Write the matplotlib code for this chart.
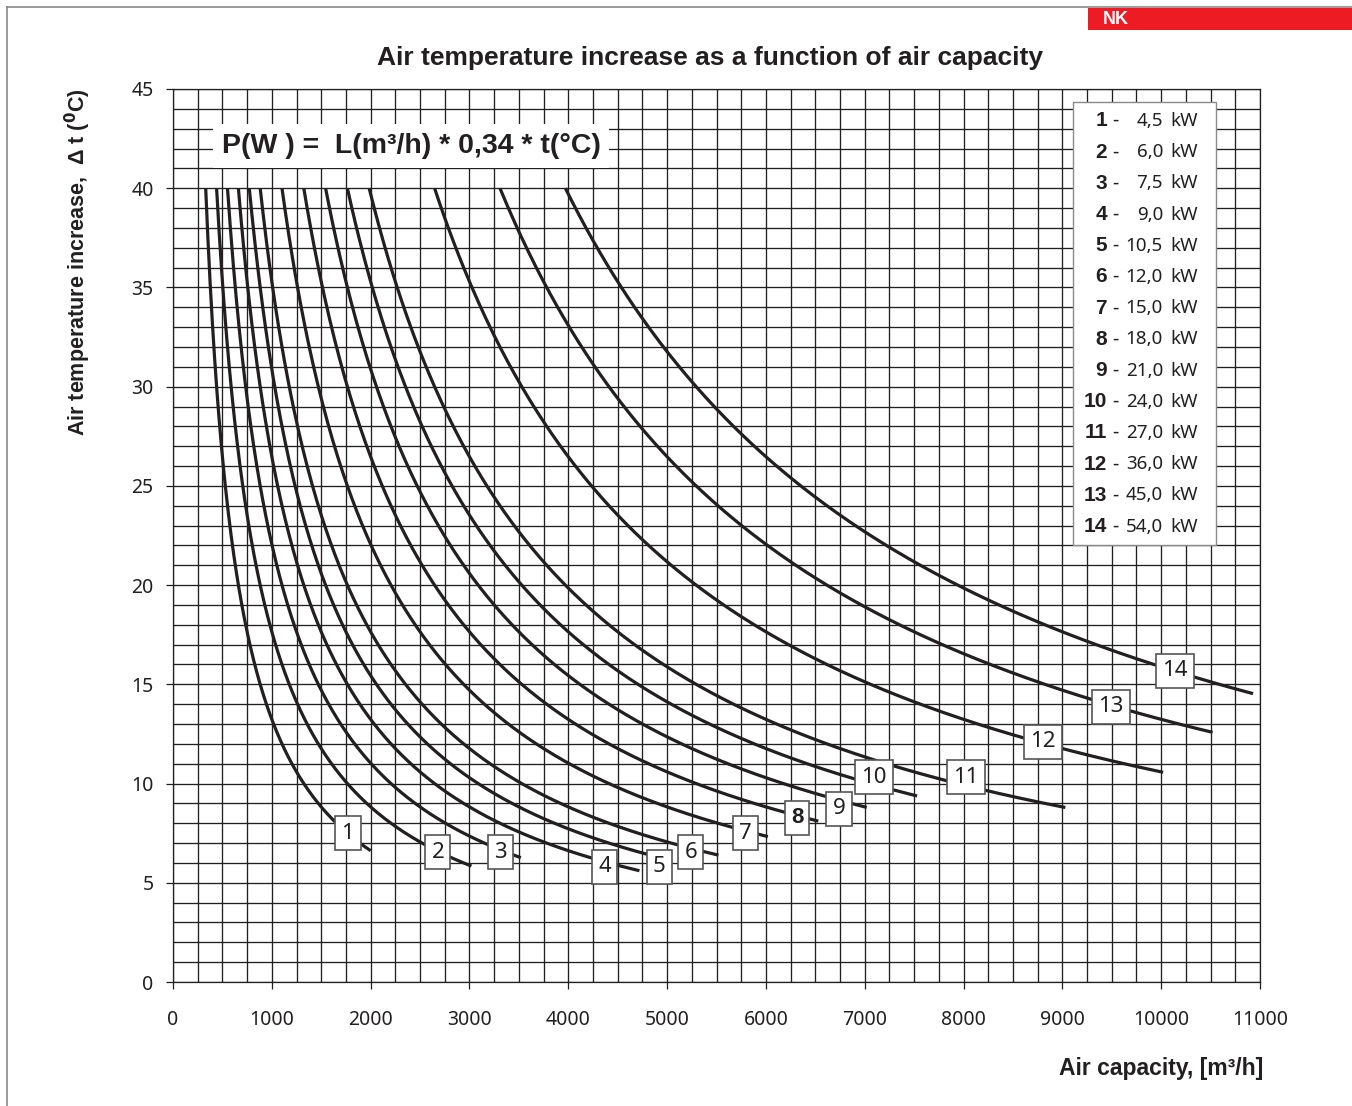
import matplotlib
matplotlib.use("Agg")
import matplotlib.pyplot as plt
from matplotlib.lines import Line2D
from matplotlib.patches import Rectangle
import numpy as np

# Heater powers (kW), taken from the legend box
curve_ids = [1, 2, 3, 4, 5, 6, 7, 8, 9, 10, 11, 12, 13, 14]
powers_kw = [4.5, 6.0, 7.5, 9.0, 10.5, 12.0, 15.0, 18.0, 21.0, 24.0, 27.0, 36.0, 45.0, 54.0]
legend_vals = ["4,5", "6,0", "7,5", "9,0", "10,5", "12,0", "15,0", "18,0",
               "21,0", "24,0", "27,0", "36,0", "45,0", "54,0"]
# where each curve stops (air capacity, m3/h)
end_capacity = [2000, 3020, 3520, 4720, 4900, 5520, 6020, 6530, 7020, 7530,
                9030, 10020, 10520, 10930]
t_start = 40  # all curves start at 40 degC
# label boxes (air capacity, delta t)
label_x = [1770, 2680, 3310, 4370, 4920, 5240, 5790, 6315, 6740, 7095, 8025, 8805, 9490, 10140]
label_y = [7.5, 6.55, 6.55, 5.8, 5.8, 6.55, 7.5, 8.27, 8.72, 10.33, 10.33, 12.1, 13.86, 15.68]

INK = "#231f20"
BOLD_FONT = ["Liberation Sans", "DejaVu Sans"]
TICK_FONT = ["Noto Sans", "DejaVu Sans"]

W, H = 1352, 1106
fig = plt.figure(figsize=(W / 100, H / 100), dpi=100)
fig.patch.set_facecolor("white")


def px_x(p):
    # pixel column -> data x
    return (p - 173) / 1087 * 11000


def px_y(p):
    # pixel row -> data y
    return (982 - p) / 893 * 45


# thin page frame + red NK tab
fig.add_artist(Line2D([7 / W, 7 / W], [0, 1 - 7 / H], color="#8a8a8a", lw=1.2))
fig.add_artist(Line2D([7 / W, 1], [1 - 7 / H, 1 - 7 / H], color="#8a8a8a", lw=1.2))
fig.add_artist(Rectangle((1088 / W, 1 - 30 / H), (W - 1088) / W, 22 / H,
                         transform=fig.transFigure, color="#ed1c24", lw=0))
fig.text(1103 / W, 1 - 19.5 / H, "NK", color="white", fontsize=13, weight="bold",
         family=BOLD_FONT, ha="left", va="center")

ax = fig.add_axes([173 / W, 1 - 982 / H, 1087 / W, 893 / H])
ax.set_xlim(0, 11000)
ax.set_ylim(0, 45)

# grid every 250 m3/h and every 1 degC
for gx in np.arange(0, 11001, 250):
    ax.axvline(gx, color=INK, lw=0.95, zorder=1)
for gy in np.arange(0, 46, 1):
    ax.axhline(gy, color=INK, lw=0.95, zorder=1)

ax.set_xticks(np.arange(0, 11001, 1000))
ax.set_yticks(np.arange(0, 46, 5))
ax.tick_params(direction="out", length=5, width=0.9, color=INK, labelcolor=INK,
               labelsize=14)
ax.tick_params(axis="x", pad=15)
ax.tick_params(axis="y", pad=9)
for lab in ax.get_xticklabels() + ax.get_yticklabels():
    lab.set_family(TICK_FONT)
for sp in ax.spines.values():
    sp.set_color(INK)
    sp.set_linewidth(0.9)

# curves: P(W) = L * 0.34 * t  ->  t = P / (0.34 L)
for p, l_end in zip(powers_kw, end_capacity):
    l0 = p * 1000 / (0.34 * t_start)
    L = np.linspace(l0, l_end, 300)
    ax.plot(L, p * 1000 / (0.34 * L), color=INK, lw=2.3, solid_capstyle="butt", zorder=3)

for cid, lx, ly in zip(curve_ids, label_x, label_y):
    ax.text(lx, ly, str(cid), fontsize=16, family=BOLD_FONT if cid == 8 else TICK_FONT,
            color=INK, weight="bold" if cid == 8 else "normal", ha="center", va="center",
            zorder=5, bbox=dict(boxstyle="square,pad=0.28", fc="white", ec="#555555", lw=1.2))

# formula box
ax.text(px_x(222), px_y(146), "P(W ) =  L(m³/h) * 0,34 * t(°C)",
        fontsize=20.5, weight="bold", family=BOLD_FONT, color=INK, ha="left", va="center",
        zorder=5, bbox=dict(boxstyle="square,pad=0.3", fc="white", ec="none"))

# legend box
ax.add_patch(Rectangle((px_x(1073), px_y(545)), px_x(1216) - px_x(1073),
                       px_y(102) - px_y(545), fc="white", ec="#8a8a8a", lw=1.0, zorder=5))
for i, (cid, val) in enumerate(zip(curve_ids, legend_vals)):
    yy = px_y(121 + i * 31.2)
    ax.text(px_x(1107), yy, str(cid), fontsize=15, weight="bold",
            family=BOLD_FONT, color=INK, ha="right", va="center", zorder=6)
    ax.text(px_x(1112), yy, "-", fontsize=14,
            family=TICK_FONT, color=INK, ha="left", va="center", zorder=6)
    ax.text(px_x(1163), yy, val, fontsize=13.5,
            family=TICK_FONT, color=INK, ha="right", va="center", zorder=6)
    ax.text(px_x(1170), yy, "kW", fontsize=13.5,
            family=TICK_FONT, color=INK, ha="left", va="center", zorder=6)

fig.text(710 / W, 1 - 58 / H, "Air temperature increase as a function of air capacity",
         fontsize=19, weight="bold", family=BOLD_FONT, color=INK, ha="center", va="center")
fig.text(1263 / W, 1 - 1068 / H, "Air capacity, [m³/h]", fontsize=16.5, weight="bold",
         family=BOLD_FONT, color=INK, ha="right", va="center")
fig.text(78 / W, 1 - 88 / H, "Air temperature increase,  Δ t ($\\mathbf{^0}$C)",
         fontsize=15.5, weight="bold", family=BOLD_FONT, color=INK, rotation=90,
         ha="center", va="top")

fig.savefig("out.png", dpi=100)
